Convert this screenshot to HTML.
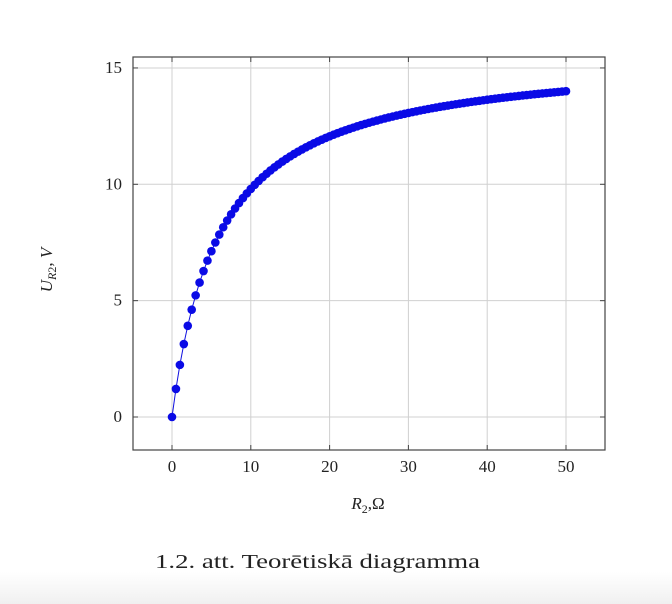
<!DOCTYPE html>
<html><head><meta charset="utf-8"><style>
body{margin:0;background:#fff;width:672px;height:604px;overflow:hidden}
svg{display:block}
text{font-family:"Liberation Serif",serif;fill:#222}
</style></head><body>
<svg width="672" height="604">
<defs><linearGradient id="bg" x1="0" y1="0" x2="0" y2="1"><stop offset="0" stop-color="#fff"/><stop offset="1" stop-color="#f0f0f0"/></linearGradient></defs>
<rect x="0" y="572" width="672" height="32" fill="url(#bg)"/>
<g id="grid"></g>
<rect x="133" y="57" width="472" height="393" fill="none" stroke="#444" stroke-width="1.2"/>
<g id="ticks"></g>
<g id="series"></g>
<text x="368" y="509" font-size="17" text-anchor="middle"><tspan font-style="italic">R</tspan><tspan font-size="12" dy="4">2</tspan><tspan dy="-4">,Ω</tspan></text>
<text transform="translate(52,270) rotate(-90)" font-size="17" text-anchor="middle"><tspan font-style="italic">U</tspan><tspan font-size="12" font-style="italic" dy="4">R</tspan><tspan font-size="12" dy="0">2</tspan><tspan dy="-4">, </tspan><tspan font-style="italic">V</tspan></text>
<text x="155" y="568" font-size="20" textLength="325" lengthAdjust="spacingAndGlyphs">1.2. att. Teorētiskā diagramma</text>
</svg>
<script>
const xTicks=[0,10,20,30,40,50];
const yTicks=[0,5,10,15];
const rValues=[];for(let i=0;i<=100;i++)rValues.push(i/2);
const uValues=[0,1.206,2.240,3.136,3.920,4.612,5.227,5.777,6.272,6.720,7.127,7.499,7.840,8.154,8.443,8.711,8.960,9.192,9.408,9.610,9.800,9.978,10.146,10.304,10.453,10.595,10.728,10.855,10.976,11.091,11.200,11.304,11.404,11.499,11.590,11.677,11.760,11.840,11.917,11.991,12.062,12.130,12.196,12.259,12.320,12.379,12.436,12.491,12.544,12.595,12.645,12.693,12.740,12.785,12.829,12.872,12.913,12.953,12.992,13.030,13.067,13.102,13.137,13.171,13.204,13.236,13.268,13.298,13.328,13.357,13.385,13.413,13.440,13.466,13.492,13.517,13.542,13.566,13.589,13.612,13.635,13.657,13.678,13.699,13.720,13.740,13.760,13.779,13.798,13.817,13.835,13.853,13.871,13.888,13.905,13.921,13.938,13.954,13.969,13.985,14.000];
const NS="http://www.w3.org/2000/svg";
const xS=v=>172+v*7.88, yS=v=>417-v*23.27;
function mk(t,a,p){const e=document.createElementNS(NS,t);for(const k in a)e.setAttribute(k,a[k]);p.appendChild(e);return e;}
const grid=document.getElementById('grid'),ticks=document.getElementById('ticks'),ser=document.getElementById('series');
xTicks.forEach(v=>{const x=xS(v);
 const g=mk('line',{x1:x,x2:x,y1:57,y2:450,stroke:'#d0d0d0'},grid);
 
 
 mk('line',{x1:x,x2:x,y1:57,y2:62,stroke:'#444'},ticks);mk('line',{x1:x,x2:x,y1:445,y2:450,stroke:'#444'},ticks);
 const t=mk('text',{x:x,y:472,'font-size':17,'text-anchor':'middle'},ticks);t.textContent=v;
 
 });
yTicks.forEach(v=>{const y=yS(v);
 const g=mk('line',{x1:133,x2:605,y1:y,y2:y,stroke:'#d0d0d0'},grid);
 
 
 mk('line',{x1:133,x2:138,y1:y,y2:y,stroke:'#444'},ticks);mk('line',{x1:600,x2:605,y1:y,y2:y,stroke:'#444'},ticks);
 const t=mk('text',{x:122,y:y+5,'font-size':17,'text-anchor':'end'},ticks);t.textContent=v;
 
 });
const pl=mk('polyline',{points:rValues.map((r,i)=>xS(r)+','+yS(uValues[i])).join(' '),fill:'none',stroke:'#1010e0','stroke-width':1},ser);


rValues.forEach((r,i)=>{const c=mk('circle',{cx:xS(r),cy:yS(uValues[i]),r:4.3,fill:'#0a0ae6'},ser);
 
 });
</script>
</body></html>
